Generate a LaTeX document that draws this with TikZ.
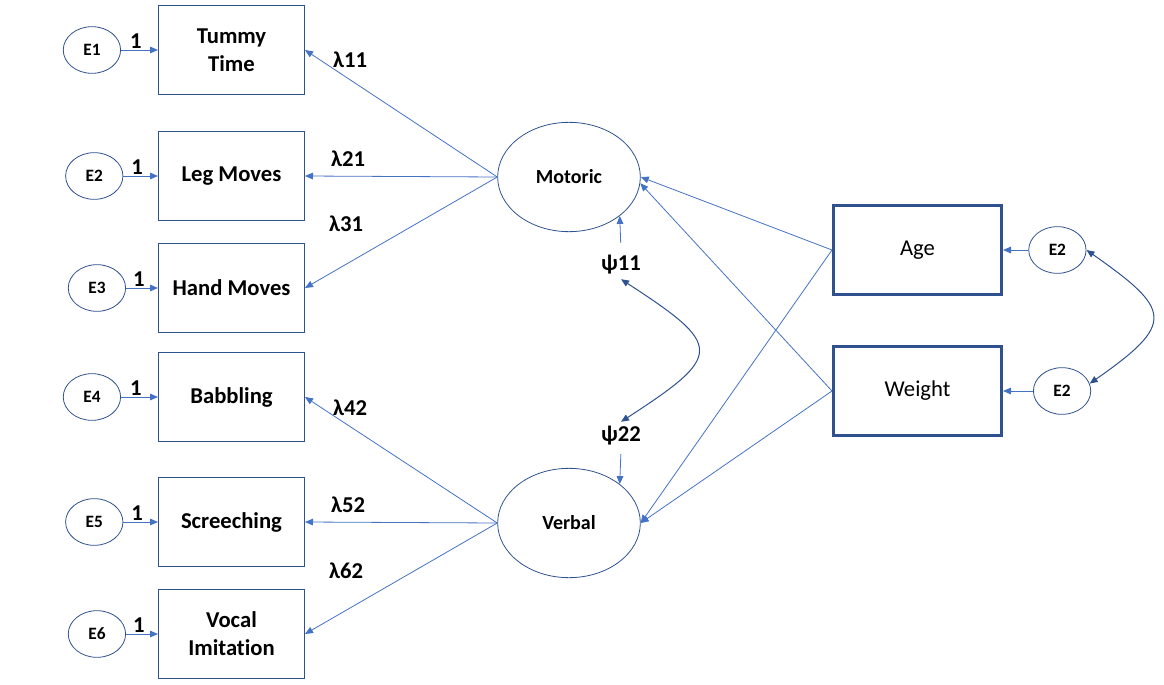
\documentclass[tikz,border=0pt]{standalone}
\usepackage{fontspec}
\setmainfont{Carlito}[Ligatures=NoCommon]
\usetikzlibrary{shapes.geometric,arrows.meta}
\usetikzlibrary{positioning}
\definecolor{linkblue}{HTML}{4472C4}
\definecolor{edgeblue}{HTML}{2F528F}
\tikzset{
    indicator/.style = {draw=edgeblue, line width=0.75pt, align=center,
                        minimum width=109.5pt, minimum height=66.75pt,
                        font=\bfseries\fontsize{17}{21}\selectfont
    },
    predictor/.style = {draw=edgeblue, line width=2.25pt,
                        minimum width=126pt, minimum height=66.75pt,
                        font=\fontsize{17}{21}\selectfont
    },
    latent/.style = {draw=edgeblue, ellipse, line width=0.6pt,
                     minimum width=107pt, minimum height=82pt,
                     font=\bfseries\fontsize{15}{18}\selectfont
    },
    residual/.style = {draw=edgeblue, ellipse, line width=0.6pt, inner sep=0pt,
                       minimum width=43pt, minimum height=35pt,
                       font=\bfseries\fontsize{13}{15}\selectfont
    },
    coef/.style = {font=\bfseries\fontsize{17}{21}\selectfont},
    fixed one/.style = {font=\bfseries\fontsize{17}{20}\selectfont, inner sep=0.5pt},
    link/.style = {draw=linkblue, line width=0.6pt,
                   -{Triangle[length=6pt, width=5pt]}
    },
    covariance/.style = {draw=edgeblue, line width=0.75pt,
                         {Triangle[length=6pt, width=5pt]}-{Triangle[length=6pt, width=5pt]}
    },
}

\begin{document}
\begin{tikzpicture}[x=0.75pt, y=0.75pt]
    \useasboundingbox (0,0) rectangle (1164,-685);
    % observed indicators
    \node (tt) [indicator] at (231.5,-50)  {Tummy\\Time};
    \node (lm) [indicator] at (231.5,-176) {Leg Moves};
    \node (hm) [indicator] at (231.5,-288) {Hand Moves};
    \node (bb) [indicator] at (231.5,-397) {Babbling};
    \node (sc) [indicator] at (231.5,-522) {Screeching};
    \node (vi) [indicator] at (231.5,-634) {Vocal\\Imitation};
    % measurement errors
    \node (e1) [residual, left=27.75pt of tt] {E1};
    \node (e2) [residual, left=26pt of lm] {E2};
    \node (e3) [residual, left=24pt of hm] {E3};
    \node (e4) [residual, left=27.75pt of bb] {E4};
    \node (e5) [residual, left=26pt of sc] {E5};
    \node (e6) [residual, left=24pt of vi] {E6};
    % latent factors
    \node (mot) [latent] at (569,-177) {Motoric};
    \node (verb) [latent] at (569,-523) {Verbal};
    % covariates
    \node (age) [predictor] at (917.5,-250) {Age};
    \node (wt) [predictor] at (917.5,-391) {Weight};
    \node (ea) [residual, right=19pt of age] {E2};
    \node (ew) [residual, right=22.5pt of wt] {E2};
    % coefficients
    \node (l11) [coef] at (350,-60)    {λ11};
    \node (l21) [coef] at (348,-159)   {λ21};
    \node (l31) [coef] at (346,-224)   {λ31};
    \node (l42) [coef] at (350,-407.5) {λ42};
    \node (l52) [coef] at (348,-504.5) {λ52};
    \node (l62) [coef] at (346,-570.5) {λ62};
    \node (p11) [coef] at (621,-265) {ψ11};
    \node (p22) [coef] at (621,-436) {ψ22};

    \draw [link] (e1) -- node [fixed one, above, pos=0.4] {1} (tt);
    \draw [link] (e2) -- node [fixed one, above, pos=0.4] {1} (lm);
    \draw [link] (e3) -- node [fixed one, above, pos=0.4] {1} (hm);
    \draw [link] (e4) -- node [fixed one, above, pos=0.4] {1} (bb);
    \draw [link] (e5) -- node [fixed one, above, pos=0.4] {1} (sc);
    \draw [link] (e6) -- node [fixed one, above, pos=0.4] {1} (vi);

    \draw [link] (mot.west) -- (tt.east);
    \draw [link] (mot.west) -- (lm.east);
    \draw [link] (mot.west) -- (hm.east);
    \draw [link] (verb.west) -- (bb.east);
    \draw [link] (verb.west) -- (sc.east);
    \draw [link] (verb.west) -- (vi.east);

    \draw [link] (age.west) -- (mot.east);
    \draw [link] (age.west) -- (verb.east);
    \draw [link] (wt.west) -- (mot.-5);
    \draw [link] (wt.west) -- (verb.east);
    \draw [link] (ea) -- (age);
    \draw [link] (ew) -- (wt);

    \draw [link, shorten <=6pt] (p11.north) -- (mot.south east);
    \draw [link, shorten <=3pt] (p22.south) -- (verb.north east);
    \draw [covariance] (p11.south) to [out=-33, in=33, looseness=2.2] (p22.north);
    \draw [covariance] (ea.east) to [out=-35, in=35, looseness=2] (ew.15);
\end{tikzpicture}
\end{document}
